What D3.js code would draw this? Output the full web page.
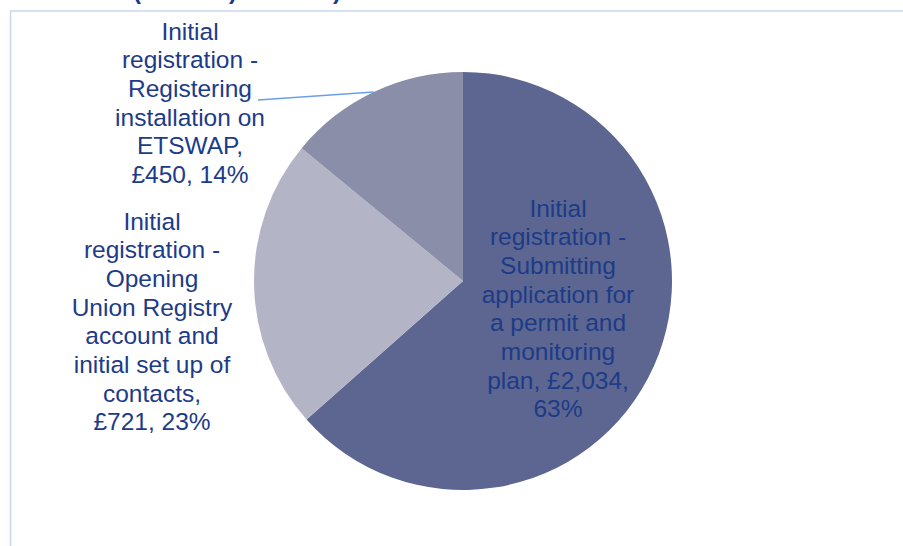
<!DOCTYPE html>
<html><head><meta charset="utf-8">
<script src="https://cdn.jsdelivr.net/npm/d3@7"></script>
<style>html,body{margin:0;padding:0;background:#fff;}svg{display:block;}</style>
</head><body>
<svg id="chart" width="903" height="546"></svg>
<script>
const categories = [
  "Initial registration - Submitting application for a permit and monitoring plan",
  "Initial registration - Opening Union Registry account and initial set up of contacts",
  "Initial registration - Registering installation on ETSWAP"
];
const values = [2034, 721, 450];
const percentLabels = ["63%", "23%", "14%"];
const colors = ["#5d6690", "#b3b5c7", "#8a8ea8"];
const labelLines = [
  ["Initial", "registration -", "Submitting", "application for", "a permit and", "monitoring", "plan, £2,034,", "63%"],
  ["Initial", "registration -", "Opening", "Union Registry", "account and", "initial set up of", "contacts,", "£721, 23%"],
  ["Initial", "registration -", "Registering", "installation on", "ETSWAP,", "£450, 14%"]
];

const svg = d3.select("#chart");
const textColor = "#1c3b88";

// cropped title remnants (title sits above the visible area in the reference)
svg.append("g").selectAll("text").data([["(",137],[")",233],[")",337]]).join("text")
  .attr("x", d => d[1]).attr("y", -1).attr("text-anchor","middle")
  .attr("font-family","Liberation Sans, Arial, sans-serif").attr("font-size",24).attr("font-weight","bold")
  .attr("fill", textColor).text(d => d[0]);

// frame
svg.append("line").attr("x1",10).attr("x2",903).attr("y1",11).attr("y2",11).attr("stroke","#c6d9f1").attr("stroke-width",1.5);
svg.append("line").attr("x1",10.5).attr("x2",10.5).attr("y1",11).attr("y2",546).attr("stroke","#c6d9f1").attr("stroke-width",1.5);

const cx = 463, cy = 281, r = 209;
const pie = d3.pie().sort(null).value(d => d);
const arcs = pie(values);
const arc = d3.arc().innerRadius(0).outerRadius(r);

const g = svg.append("g").attr("transform", `translate(${cx},${cy})`);
g.selectAll("path").data(arcs).join("path")
  .attr("d", arc).attr("fill", (d,i) => colors[i]);

// leader line for the small slice
const mid2 = (arcs[2].startAngle + arcs[2].endAngle) / 2;
const edge = [Math.sin(mid2) * r + cx, -Math.cos(mid2) * r + cy];
svg.append("line").attr("x1", 258).attr("y1", 100).attr("x2", edge[0]).attr("y2", edge[1])
  .attr("stroke", "#6d9eeb").attr("stroke-width", 1.3);

const labelPos = [
  {x: 558, y: 208},
  {x: 152, y: 221},
  {x: 190, y: 31}
];
const lh = 28.7;
labelLines.forEach((lines, i) => {
  const t = svg.append("text")
    .attr("font-family","Liberation Sans, Arial, sans-serif")
    .attr("font-size", 24.5)
    .attr("fill", textColor)
    .attr("text-anchor","middle");
  lines.forEach((ln, j) => {
    t.append("tspan").attr("x", labelPos[i].x).attr("y", labelPos[i].y + j*lh)
      .attr("dy","0.35em").text(ln);
  });
});
</script>
</body></html>
